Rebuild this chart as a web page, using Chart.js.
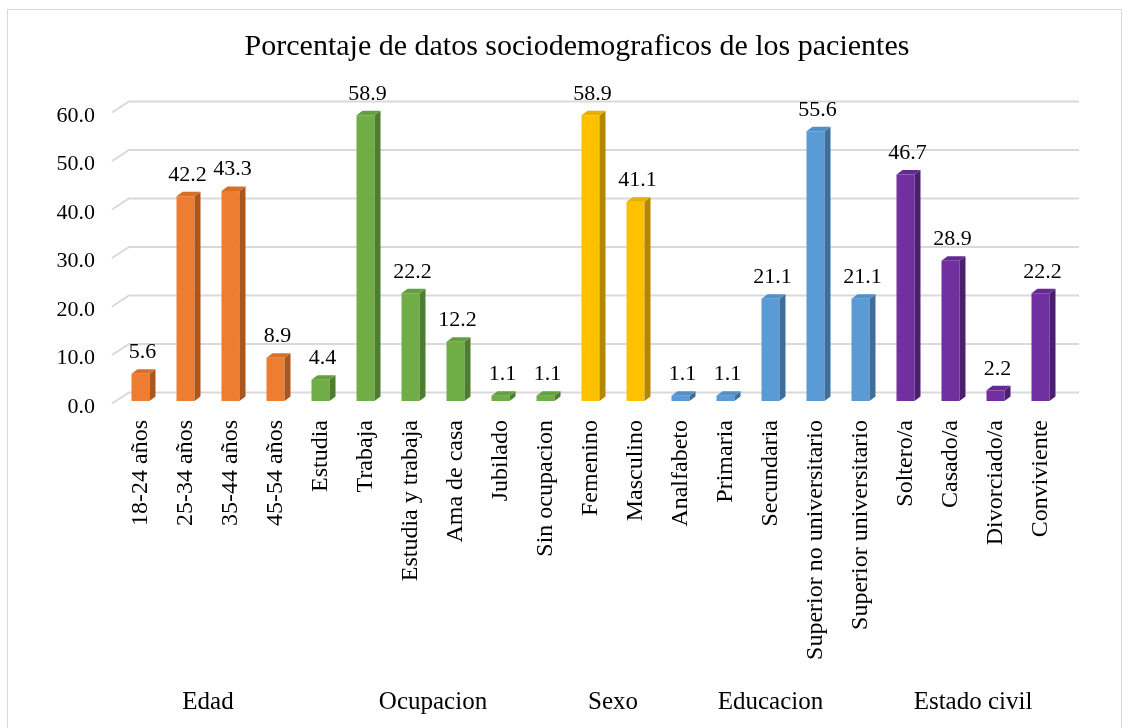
<!DOCTYPE html>
<html>
<head>
<meta charset="utf-8">
<script src="https://cdn.jsdelivr.net/npm/chart.js@4/dist/chart.umd.min.js"></script>
<style>
  body { margin: 0; background: #fff; }
  canvas { display: block; }
</style>
</head>
<body>
<canvas id="chart" width="1126" height="728"></canvas>
<script>
const chartTitle = 'Porcentaje de datos sociodemograficos de los pacientes';
const categories = [
  '18-24 años', '25-34 años', '35-44 años', '45-54 años',
  'Estudia', 'Trabaja', 'Estudia y trabaja', 'Ama de casa', 'Jubilado', 'Sin ocupacion',
  'Femenino', 'Masculino',
  'Analfabeto', 'Primaria', 'Secundaria', 'Superior no universitario', 'Superior universitario',
  'Soltero/a', 'Casado/a', 'Divorciado/a', 'Conviviente'
];
const values = [
  5.6, 42.2, 43.3, 8.9,
  4.4, 58.9, 22.2, 12.2, 1.1, 1.1,
  58.9, 41.1,
  1.1, 1.1, 21.1, 55.6, 21.1,
  46.7, 28.9, 2.2, 22.2
];
const groupNames = ['Edad', 'Ocupacion', 'Sexo', 'Educacion', 'Estado civil'];
const groupSizes = [4, 6, 2, 5, 4];
const yTicks = [0, 10, 20, 30, 40, 50, 60];

const frontColors = ['#ED7D31', '#70AD47', '#FFC000', '#5B9BD5', '#7030A0'];
const sideColors = ['#A9561F', '#4D7D2F', '#B38700', '#3E6F9C', '#4C1E70'];
const topColors = ['#D96F27', '#64A03D', '#E8AE00', '#5290C8', '#652A92'];

const FONT = "'Liberation Serif', 'Times New Roman', serif";
const DX = 6, DY = 4.5;

// group index for every bar
const groupOf = [];
groupSizes.forEach((n, g) => { for (let i = 0; i < n; i++) groupOf.push(g); });

const bar3d = {
  id: 'bar3d',
  beforeDraw(chart) {
    const ctx = chart.ctx;
    ctx.save();
    ctx.fillStyle = '#fff';
    ctx.fillRect(0, 0, chart.width, chart.height);
    ctx.strokeStyle = '#d9d9d9';
    ctx.lineWidth = 1;
    ctx.strokeRect(7.5, 9.5, chart.width - 12, chart.height - 9);
    // title
    ctx.fillStyle = '#000';
    ctx.font = '30px ' + FONT;
    ctx.textAlign = 'center';
    ctx.textBaseline = 'middle';
    ctx.fillText(chartTitle, 577, 47);
    ctx.restore();
  },
  beforeDatasetsDraw(chart) {
    // back wall gridlines with the short floor diagonal on the left
    const ctx = chart.ctx, y = chart.scales.y, area = chart.chartArea;
    ctx.save();
    ctx.strokeStyle = '#d9d9d9';
    ctx.lineWidth = 2;
    yTicks.forEach(v => {
      const py = y.getPixelForValue(v);
      ctx.beginPath();
      ctx.moveTo(area.left - 6, py + 2.5);
      ctx.lineTo(area.left + 11, py - 8.5);
      ctx.lineTo(area.right + 16, py - 8.5);
      ctx.stroke();
    });
    ctx.restore();
  },
  afterDatasetsDraw(chart) {
    const ctx = chart.ctx;
    const meta = chart.getDatasetMeta(0);
    ctx.save();
    meta.data.forEach((bar, i) => {
      const g = groupOf[i];
      const l = bar.x - bar.width / 2, r = bar.x + bar.width / 2;
      // side
      ctx.fillStyle = sideColors[g];
      ctx.beginPath();
      ctx.moveTo(r, bar.y);
      ctx.lineTo(r + DX, bar.y - DY);
      ctx.lineTo(r + DX, bar.base - DY);
      ctx.lineTo(r, bar.base);
      ctx.closePath();
      ctx.fill();
      // top
      ctx.fillStyle = topColors[g];
      ctx.beginPath();
      ctx.moveTo(l, bar.y);
      ctx.lineTo(l + DX, bar.y - DY);
      ctx.lineTo(r + DX, bar.y - DY);
      ctx.lineTo(r, bar.y);
      ctx.closePath();
      ctx.fill();
      // value label
      ctx.fillStyle = '#000';
      ctx.font = '22px ' + FONT;
      ctx.textAlign = 'center';
      ctx.textBaseline = 'alphabetic';
      ctx.fillText(values[i].toFixed(1), bar.x + 2, bar.y - DY - 11);
    });
    ctx.restore();
  },
  afterDraw(chart) {
    // group names under the category labels
    const ctx = chart.ctx, x = chart.scales.x;
    ctx.save();
    ctx.fillStyle = '#000';
    ctx.font = '25px ' + FONT;
    ctx.textAlign = 'center';
    ctx.textBaseline = 'middle';
    let start = 0;
    groupSizes.forEach((n, g) => {
      const cx = (x.getPixelForValue(start) + x.getPixelForValue(start + n - 1)) / 2;
      ctx.fillText(groupNames[g], cx, 702);
      start += n;
    });
    ctx.restore();
  }
};

new Chart(document.getElementById('chart'), {
  type: 'bar',
  data: {
    labels: categories,
    datasets: [{
      data: values,
      backgroundColor: groupOf.map(g => frontColors[g]),
      barPercentage: 0.8,
      categoryPercentage: 0.5
    }]
  },
  options: {
    responsive: false,
    animation: false,
    layout: { padding: { top: 110, right: 63, left: 0, bottom: 0 } },
    plugins: {
      legend: { display: false },
      tooltip: { enabled: false },
      title: { display: false }
    },
    scales: {
      x: {
        grid: { display: false, drawTicks: false },
        border: { display: false },
        ticks: {
          autoSkip: false,
          maxRotation: 90,
          minRotation: 90,
          padding: 19,
          color: '#000',
          font: { family: FONT, size: 24 }
        },
        afterFit(scale) { scale.height = 327; }
      },
      y: {
        min: 0,
        max: 60,
        grid: { display: false, drawTicks: false },
        border: { display: false },
        ticks: {
          stepSize: 10,
          padding: 23,
          labelOffset: 6,
          color: '#000',
          font: { family: FONT, size: 22 },
          callback: v => v.toFixed(1)
        },
        afterFit(scale) { scale.width = 118; }
      }
    }
  },
  plugins: [bar3d]
});
</script>
</body>
</html>
